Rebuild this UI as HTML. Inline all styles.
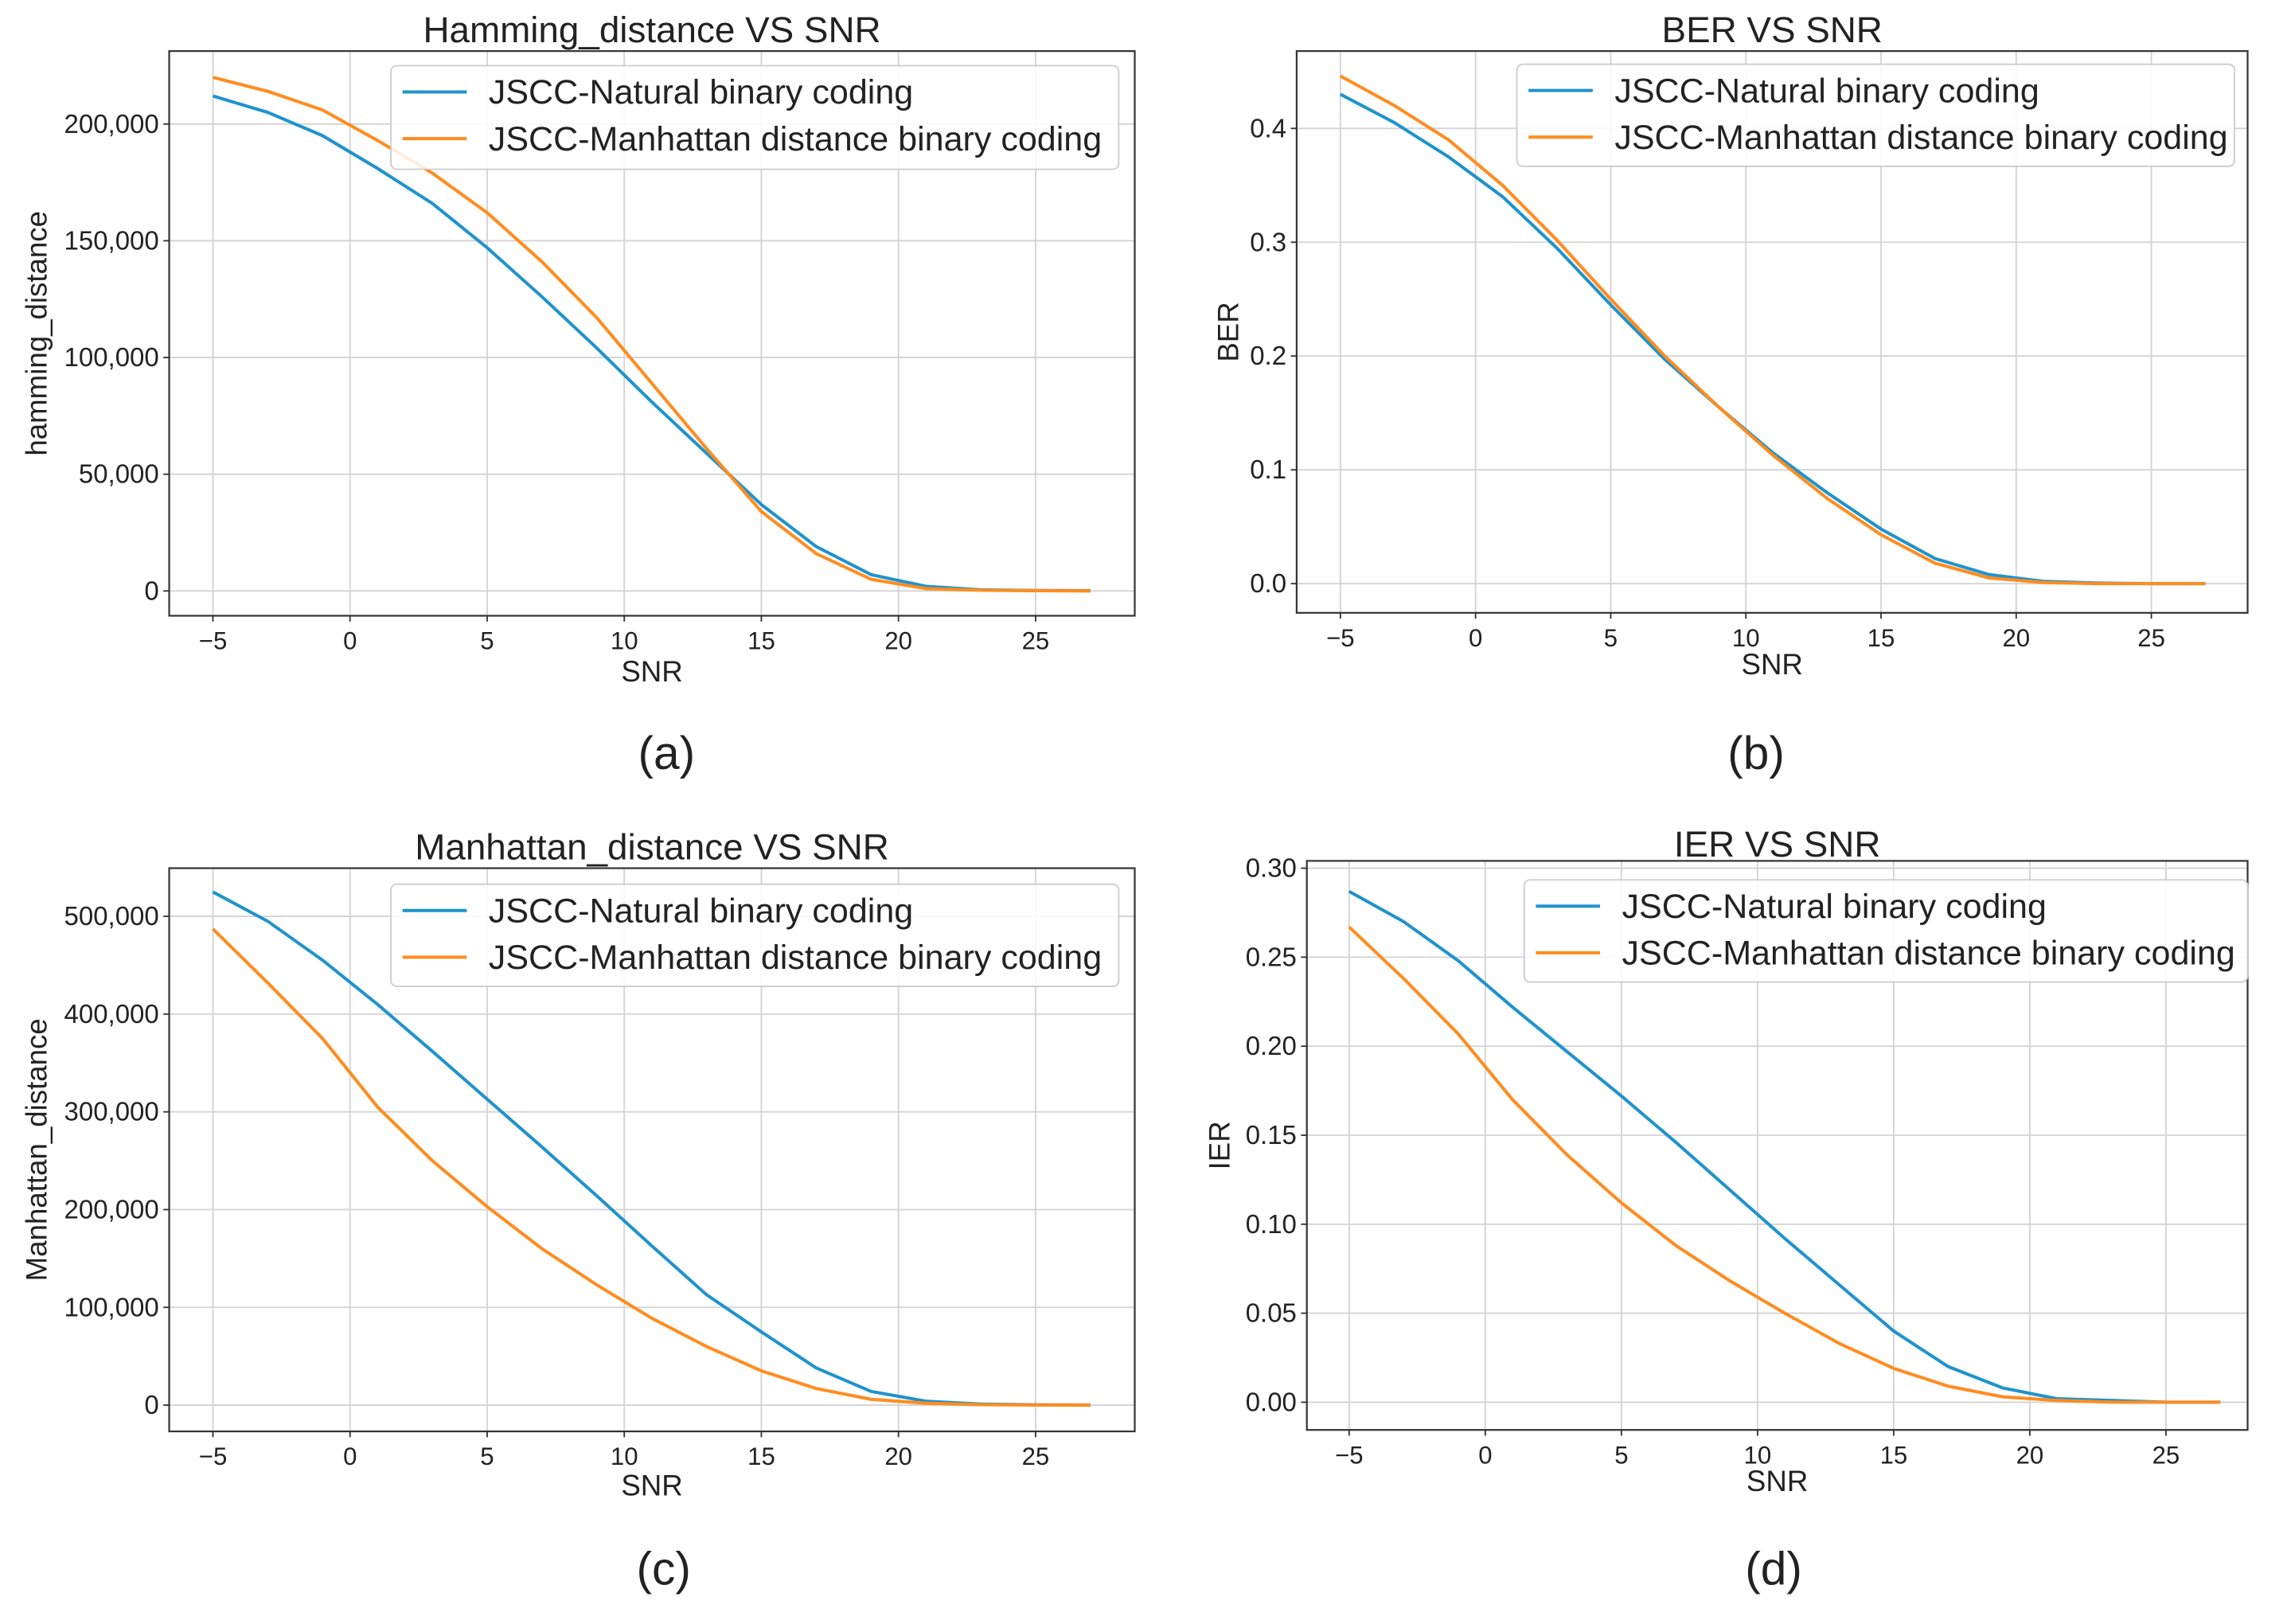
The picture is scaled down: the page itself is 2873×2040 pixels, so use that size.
<!DOCTYPE html>
<html><head><meta charset="utf-8"><style>
html,body{margin:0;padding:0;background:#fff;}
svg{display:block;}
text{font-family:"Liberation Sans","DejaVu Sans",sans-serif;fill:#222;}
</style></head><body>
<svg id="fig" width="2873" height="2040" viewBox="0 0 1568 1113" preserveAspectRatio="none" xmlns="http://www.w3.org/2000/svg"></svg>
<script>
const snr = [-5,-3,-1,1,3,5,7,9,11,13,15,17,19,21,23,25,27];
const xTicks = [-5,0,5,10,15,20,25];
const seriesNames = ["JSCC-Natural binary coding","JSCC-Manhattan distance binary coding"];
const hammingNatural = [212,205,195,181,166,147,126,104,81,59,37,19,7,2,0.5,0.2,0.1];
const hammingManhattan = [220,214,206,193,179,162,141,117,89,61,34,16,5,1,0.3,0.1,0];
const hammingTicks = [0,50,100,150,200];
const hammingTickLabels = ["0","50,000","100,000","150,000","200,000"];
const berNatural = [0.43,0.405,0.375,0.34,0.295,0.245,0.197,0.155,0.115,0.08,0.048,0.022,0.008,0.002,0.0005,0,0];
const berManhattan = [0.446,0.42,0.39,0.35,0.302,0.25,0.2,0.155,0.113,0.075,0.043,0.018,0.005,0.001,0,0,0];
const berTicks = [0,0.1,0.2,0.3,0.4];
const berTickLabels = ["0.0","0.1","0.2","0.3","0.4"];
const manNatural = [525,495,455,410,362,313,264,214,163,113,75,38,14,4,1,0.3,0.1];
const manManhattan = [487,432,375,305,250,203,160,123,89,60,35,17,6,2,0.5,0.1,0];
const manTicks = [0,100,200,300,400,500];
const manTickLabels = ["0","100,000","200,000","300,000","400,000","500,000"];
const ierNatural = [0.287,0.27,0.248,0.222,0.197,0.172,0.146,0.119,0.092,0.066,0.04,0.02,0.008,0.002,0.001,0,0];
const ierManhattan = [0.267,0.238,0.207,0.17,0.139,0.112,0.088,0.068,0.05,0.033,0.019,0.009,0.003,0.001,0,0,0];
const ierTicks = [0,0.05,0.1,0.15,0.2,0.25,0.3];
const ierTickLabels = ["0.00","0.05","0.10","0.15","0.20","0.25","0.30"];

const NS="http://www.w3.org/2000/svg";
const svg=document.getElementById('fig');
function mk(tag,attrs,parent,txt){const e=document.createElementNS(NS,tag);for(const k in attrs)e.setAttribute(k,attrs[k]);if(txt!==undefined)e.textContent=txt;(parent||svg).appendChild(e);return e;}

const panels=[
 {key:'hamming',title:'Hamming_distance VS SNR',ylab:'hamming_distance',cap:'(a)',L:116,R:778,T:35,B:422,x0:146,x25:710,yv0:0,yp0:405,yv1:200,yp1:85,ylx:25,tity:20,snry:460,capx:457,capy:516,lg:[268,45,499,71],ticks:hammingTicks,labels:hammingTickLabels,d:[hammingNatural,hammingManhattan]},
 {key:'ber',title:'BER VS SNR',ylab:'BER',cap:'(b)',L:889,R:1541,T:35,B:420,x0:919,x25:1475,yv0:0,yp0:400,yv1:0.4,yp1:88,ylx:842,tity:20,snry:455,capx:1204,capy:516,lg:[1040,44,492,70],ticks:berTicks,labels:berTickLabels,d:[berNatural,berManhattan]},
 {key:'manhattan',title:'Manhattan_distance VS SNR',ylab:'Manhattan_distance',cap:'(c)',L:116,R:778,T:595,B:981,x0:146,x25:710,yv0:0,yp0:963,yv1:500,yp1:628,ylx:25,tity:580,snry:1018,capx:455,capy:1075,lg:[268,606,499,70],ticks:manTicks,labels:manTickLabels,d:[manNatural,manManhattan]},
 {key:'ier',title:'IER VS SNR',ylab:'IER',cap:'(d)',L:896,R:1541,T:590,B:980,x0:925,x25:1485,yv0:0,yp0:961,yv1:0.3,yp1:595,ylx:836,tity:578,snry:1015,capx:1216,capy:1075,lg:[1045,603,496,70],ticks:ierTicks,labels:ierTickLabels,d:[ierNatural,ierManhattan]}
];
const colors=['#1f93cc','#ff8c1f'];
panels.forEach(p=>{
 const g=mk('g',{});
 
 
 const xs=v=>p.x0+(v+5)*(p.x25-p.x0)/30;
 const ys=v=>p.yp0+(v-p.yv0)*(p.yp1-p.yp0)/(p.yv1-p.yv0);
 xTicks.forEach(t=>{
  const l=mk('line',{x1:xs(t),x2:xs(t),y1:p.T,y2:p.B,stroke:'#d3d3d3','stroke-width':1},g);
  
  mk('line',{x1:xs(t),x2:xs(t),y1:p.B,y2:p.B+4,stroke:'#333','stroke-width':1},g);
  const tx=mk('text',{x:xs(t),y:p.B+23,'text-anchor':'middle','font-size':17},g,t<0?'\u2212'+(-t):String(t));
  
 });
 p.ticks.forEach((t,i)=>{
  const l=mk('line',{x1:p.L,x2:p.R,y1:ys(t),y2:ys(t),stroke:'#d3d3d3','stroke-width':1},g);
  
  mk('line',{x1:p.L-4,x2:p.L,y1:ys(t),y2:ys(t),stroke:'#333','stroke-width':1},g);
  const tx=mk('text',{x:p.L-7,y:ys(t)+6,'text-anchor':'end','font-size':18},g,p.labels[i]);
  
 });
 p.d.forEach((arr,si)=>{
  const pts=arr.map((v,i)=>xs(snr[i]).toFixed(1)+','+ys(v).toFixed(1)).join(' ');
  const pl=mk('polyline',{points:pts,fill:'none',stroke:colors[si],'stroke-width':2.2},g);
  
  
 });
 const fr=mk('rect',{x:p.L,y:p.T,width:p.R-p.L,height:p.B-p.T,fill:'none',stroke:'#333','stroke-width':1.2},g);
 
 const lg=mk('g',{},g);
 
 mk('rect',{x:p.lg[0],y:p.lg[1],width:p.lg[2],height:p.lg[3],rx:4,fill:'#fff','fill-opacity':0.85,stroke:'#ccc','stroke-width':1},lg);
 seriesNames.forEach((n,si)=>{
  const yy=p.lg[1]+18+si*32;
  mk('line',{x1:p.lg[0]+8,x2:p.lg[0]+52,y1:yy,y2:yy,stroke:colors[si],'stroke-width':2.2},lg);
  const t=mk('text',{x:p.lg[0]+67,y:yy+8,'font-size':23.5},lg,n);
  
 });
 const tt=mk('text',{x:(p.L+p.R)/2,y:p.tity+9,'text-anchor':'middle','font-size':25},g,p.title);
 
 const xl=mk('text',{x:(p.L+p.R)/2,y:p.snry+7,'text-anchor':'middle','font-size':20},g,'SNR');
 
 const cy=(p.T+p.B)/2;
 const yl=mk('text',{x:p.ylx+7,y:cy,'text-anchor':'middle','font-size':20,transform:'rotate(-90 '+(p.ylx+7)+' '+cy+')'},g,p.ylab);
 
 const cp=mk('text',{x:p.capx,y:p.capy+11,'text-anchor':'middle','font-size':32},g,p.cap);
 
});
</script>
</body></html>
